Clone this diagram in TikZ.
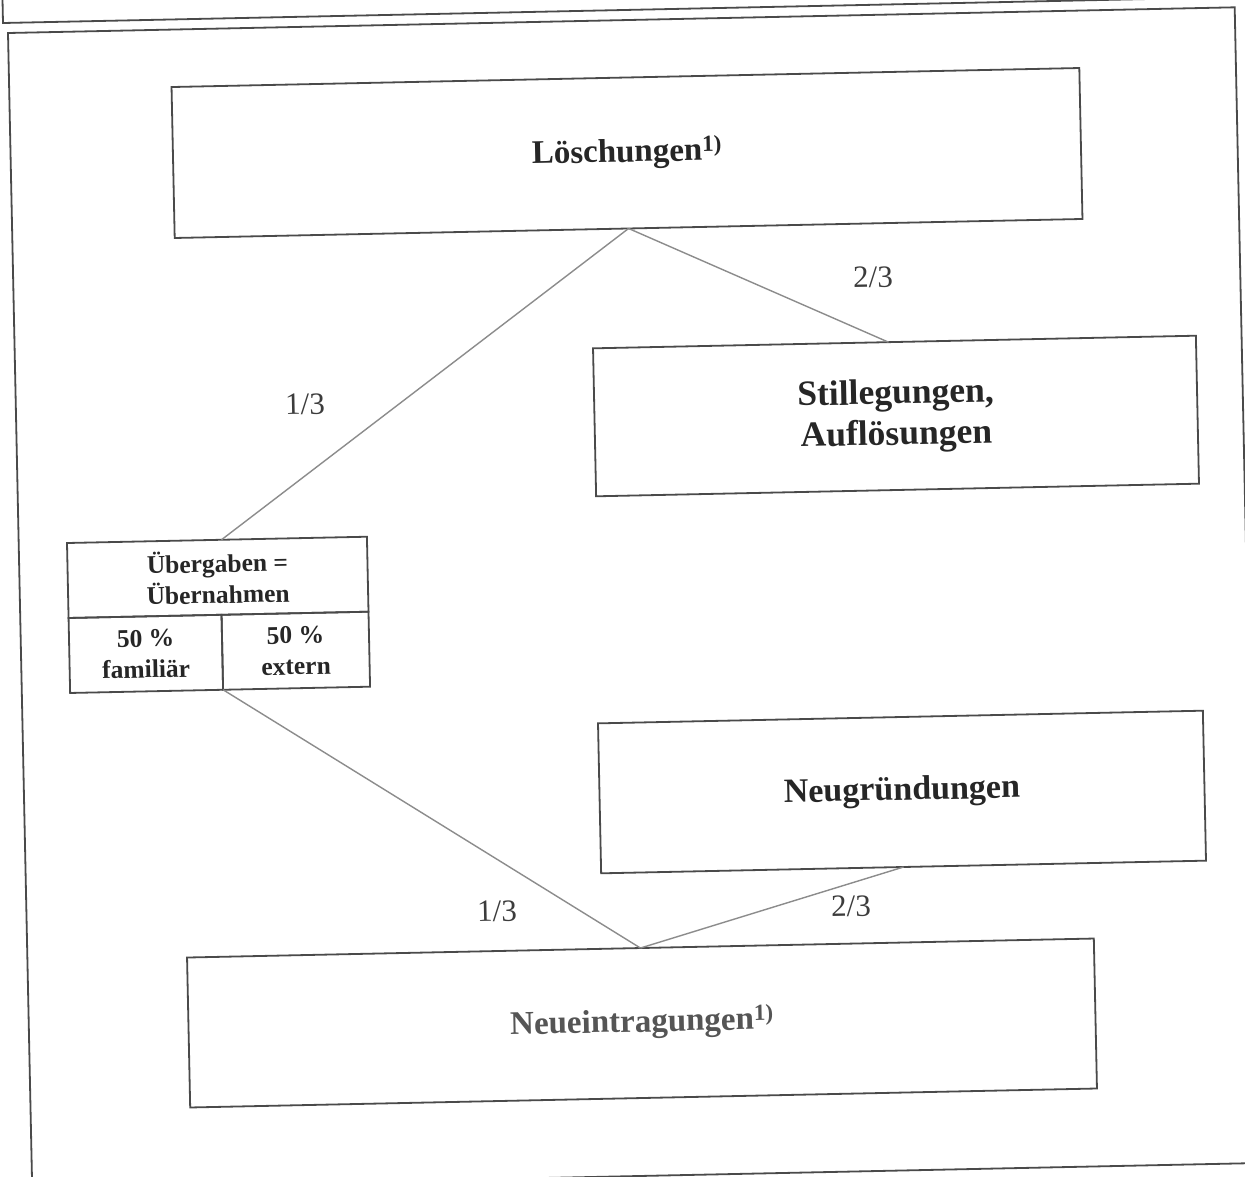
\documentclass[tikz,border=0pt]{standalone}
\usepackage{fontspec}
\setmainfont{Liberation Serif}
\usetikzlibrary{calc}
\definecolor{boxc}{HTML}{4A4A4A}
\definecolor{linec}{HTML}{8C8C8C}
\definecolor{txtc}{HTML}{262626}
\definecolor{greytxt}{HTML}{555555}
\definecolor{fracc}{HTML}{3C3C3C}
\begin{document}
\begin{tikzpicture}[x=1pt,y=-1pt,
  frame/.style={draw=boxc, line width=1.8pt, rectangle, inner sep=0pt, outer sep=0pt, rotate=1.2},
  box/.style={draw=boxc, line width=1.8pt, rectangle, inner sep=0pt, outer sep=0pt, rotate=1.2,
    align=center, text=txtc, font=\bfseries\fontsize{34}{40}\selectfont},
  smallbox/.style={box, font=\bfseries\fontsize{25.5}{31}\selectfont},
  conn/.style={draw=linec, line width=1.4pt},
  frac/.style={text=fracc, rotate=1.2, font=\fontsize{31}{36}\selectfont, inner sep=0pt}]
\clip (0,0) rectangle (1245,1176);
\fill[white] (0,0) rectangle (1245,1176);
% frames
\node[frame, minimum width=1260pt, minimum height=140pt, anchor=south west] (prev) at (3,23) {};
\node[frame, minimum width=1227pt, minimum height=1156pt, anchor=north west] (frame) at (8,33) {};
% boxes
\node[box, minimum width=908pt, minimum height=151pt, font=\bfseries\fontsize{33}{40}\selectfont] (loesch) at (627,153) {Löschungen\textsuperscript{1)}};
\node[box, minimum width=603pt, minimum height=148pt, font=\bfseries\fontsize{35.5}{41}\selectfont] (still) at (896,416) {Stillegungen,\\Auflösungen};
\node[box, minimum width=605pt, minimum height=150pt] (neugr) at (902,792) {Neugründungen};
\node[box, minimum width=907pt, minimum height=150pt, text=greytxt, font=\bfseries\fontsize{33}{40}\selectfont] (neuein) at (642,1023) {Neueintragungen\textsuperscript{1)}};
% Uebergaben box
\node[smallbox, minimum width=300pt, minimum height=75pt, anchor=north west] (ueb) at (67,543) {Übergaben =\\Übernahmen};
\node[smallbox, minimum width=153pt, minimum height=75pt, anchor=north west] (fam) at (ueb.south west) {50 \%\\familiär};
\node[smallbox, minimum width=147pt, minimum height=75pt, anchor=north west] (ext) at (fam.north east) {50 \%\\extern};
% connectors
\draw[conn] (loesch.south) -- ($(ueb.north west)!0.515!(ueb.north east)$);
\draw[conn] (loesch.south) -- ($(still.north west)!0.49!(still.north east)$);
\draw[conn] (fam.south east) -- (neuein.north);
\draw[conn] (neugr.south) -- (neuein.north);
% labels
\node[frac] (l1) at (873,277) {2/3};
\node[frac] (l2) at (305,404) {1/3};
\node[frac] (l3) at (497,911) {1/3};
\node[frac] (l4) at (851,906) {2/3};
\end{tikzpicture}
\end{document}
